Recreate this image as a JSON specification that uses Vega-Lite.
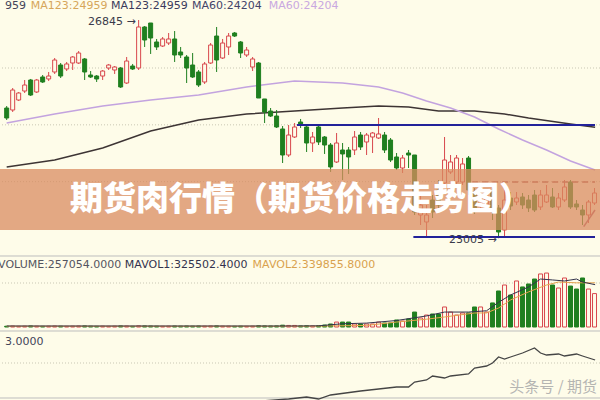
{
"$schema":"https://vega.github.io/schema/vega-lite/v6.json",
"width":600,"height":400,"padding":0,
"autosize":{"type":"none"},
"background":"#fefce9",
"config":{"view":{"stroke":null}},
"datasets":{
"candles":[
{"i":0,"o":25296,"h":25331,"l":25085,"c":25120,"v":6000},
{"i":1,"o":25261,"h":25648,"l":25226,"c":25613,"v":7000},
{"i":2,"o":25437,"h":25578,"l":25419,"c":25560,"v":5000},
{"i":3,"o":25595,"h":25789,"l":25560,"c":25701,"v":6000},
{"i":4,"o":25789,"h":25807,"l":25507,"c":25525,"v":8000},
{"i":5,"o":25578,"h":25807,"l":25560,"c":25789,"v":6000},
{"i":6,"o":25842,"h":25877,"l":25736,"c":25754,"v":5000},
{"i":7,"o":25807,"h":25930,"l":25771,"c":25859,"v":6000},
{"i":8,"o":25930,"h":26176,"l":25895,"c":26141,"v":7000},
{"i":9,"o":26053,"h":26088,"l":25824,"c":25859,"v":6000},
{"i":10,"o":25983,"h":26106,"l":25947,"c":26071,"v":5000},
{"i":11,"o":26088,"h":26211,"l":25965,"c":26194,"v":6000},
{"i":12,"o":26088,"h":26299,"l":26071,"c":26264,"v":7000},
{"i":13,"o":26159,"h":26176,"l":25789,"c":25930,"v":8000},
{"i":14,"o":25877,"h":25947,"l":25824,"c":25842,"v":6000},
{"i":15,"o":25859,"h":25877,"l":25754,"c":25807,"v":5000},
{"i":16,"o":25859,"h":25965,"l":25789,"c":25947,"v":6000},
{"i":17,"o":26000,"h":26071,"l":25965,"c":26053,"v":5000},
{"i":18,"o":25965,"h":26035,"l":25895,"c":26018,"v":6000},
{"i":19,"o":26000,"h":26018,"l":25648,"c":25666,"v":8000},
{"i":20,"o":25736,"h":26194,"l":25719,"c":26123,"v":7000},
{"i":21,"o":26035,"h":26071,"l":25965,"c":25983,"v":5000},
{"i":22,"o":26000,"h":26845,"l":25965,"c":26722,"v":9000},
{"i":23,"o":26722,"h":26739,"l":26370,"c":26493,"v":8000},
{"i":24,"o":26792,"h":26792,"l":26247,"c":26528,"v":7000},
{"i":25,"o":26458,"h":26511,"l":26317,"c":26370,"v":6000},
{"i":26,"o":26387,"h":26546,"l":26370,"c":26511,"v":5000},
{"i":27,"o":26440,"h":26616,"l":26405,"c":26511,"v":6000},
{"i":28,"o":26511,"h":26651,"l":26106,"c":26229,"v":7000},
{"i":29,"o":26282,"h":26370,"l":26176,"c":26229,"v":6000},
{"i":30,"o":26194,"h":26229,"l":25736,"c":26000,"v":7000},
{"i":31,"o":26053,"h":26264,"l":25824,"c":25842,"v":6000},
{"i":32,"o":25930,"h":25965,"l":25666,"c":25701,"v":7000},
{"i":33,"o":25754,"h":26106,"l":25719,"c":26071,"v":6000},
{"i":34,"o":26088,"h":26440,"l":26071,"c":26405,"v":7000},
{"i":35,"o":26563,"h":26722,"l":25930,"c":26141,"v":8000},
{"i":36,"o":26176,"h":26511,"l":26159,"c":26440,"v":6000},
{"i":37,"o":26370,"h":26616,"l":26229,"c":26563,"v":6000},
{"i":38,"o":26616,"h":26634,"l":26546,"c":26563,"v":5000},
{"i":39,"o":26458,"h":26475,"l":26176,"c":26264,"v":6000},
{"i":40,"o":26229,"h":26370,"l":26194,"c":26317,"v":5000},
{"i":41,"o":26018,"h":26194,"l":25947,"c":26159,"v":6000},
{"i":42,"o":26088,"h":26106,"l":25472,"c":25472,"v":9000},
{"i":43,"o":25455,"h":25455,"l":25032,"c":25226,"v":8000},
{"i":44,"o":25243,"h":25296,"l":25138,"c":25155,"v":7000},
{"i":45,"o":25155,"h":25261,"l":24944,"c":24962,"v":8000},
{"i":46,"o":24927,"h":24979,"l":24328,"c":24469,"v":14000},
{"i":47,"o":24469,"h":24997,"l":24434,"c":24821,"v":12000},
{"i":48,"o":24786,"h":25032,"l":24768,"c":24962,"v":12000},
{"i":49,"o":25050,"h":25103,"l":24944,"c":24997,"v":8000},
{"i":50,"o":24962,"h":24997,"l":24522,"c":24680,"v":9000},
{"i":51,"o":24680,"h":24874,"l":24522,"c":24786,"v":8000},
{"i":52,"o":24962,"h":24997,"l":24645,"c":24698,"v":10000},
{"i":53,"o":24786,"h":24803,"l":24487,"c":24645,"v":15000},
{"i":54,"o":24645,"h":24680,"l":24170,"c":24258,"v":23000},
{"i":55,"o":24346,"h":24856,"l":24328,"c":24680,"v":38000},
{"i":56,"o":24557,"h":24680,"l":24029,"c":24487,"v":38000},
{"i":57,"o":24557,"h":24610,"l":24135,"c":24434,"v":38000},
{"i":58,"o":24557,"h":24891,"l":24469,"c":24786,"v":23000},
{"i":59,"o":24821,"h":24874,"l":24557,"c":24610,"v":23000},
{"i":60,"o":24698,"h":24856,"l":24469,"c":24821,"v":23000},
{"i":61,"o":24786,"h":24874,"l":24504,"c":24856,"v":23000},
{"i":62,"o":24768,"h":25120,"l":24751,"c":24839,"v":38000},
{"i":63,"o":24821,"h":24874,"l":24504,"c":24557,"v":31000},
{"i":64,"o":24733,"h":24768,"l":24346,"c":24381,"v":31000},
{"i":65,"o":24434,"h":24504,"l":24205,"c":24240,"v":54000},
{"i":66,"o":24240,"h":24469,"l":24152,"c":24416,"v":46000},
{"i":67,"o":24504,"h":24557,"l":24240,"c":24469,"v":62000},
{"i":68,"o":24469,"h":24469,"l":23413,"c":23466,"v":115000},
{"i":69,"o":23413,"h":23765,"l":23237,"c":23589,"v":69000},
{"i":70,"o":23290,"h":23589,"l":23026,"c":23413,"v":92000},
{"i":71,"o":23677,"h":23765,"l":23360,"c":23466,"v":100000},
{"i":72,"o":23853,"h":24029,"l":23501,"c":23589,"v":100000},
{"i":73,"o":23976,"h":24786,"l":23941,"c":24381,"v":154000},
{"i":74,"o":24170,"h":24469,"l":24135,"c":24346,"v":115000},
{"i":75,"o":23994,"h":24469,"l":23941,"c":24416,"v":92000},
{"i":76,"o":23994,"h":24416,"l":23941,"c":24311,"v":108000},
{"i":77,"o":24416,"h":24451,"l":23765,"c":23853,"v":108000},
{"i":78,"o":23818,"h":23888,"l":23431,"c":23501,"v":154000},
{"i":79,"o":23571,"h":23818,"l":23501,"c":23712,"v":154000},
{"i":80,"o":23607,"h":23853,"l":23466,"c":23747,"v":115000},
{"i":81,"o":23818,"h":23888,"l":23325,"c":23466,"v":185000},
{"i":82,"o":23536,"h":23589,"l":23005,"c":23114,"v":277000},
{"i":83,"o":23149,"h":23853,"l":23043,"c":23677,"v":323000},
{"i":84,"o":23712,"h":23818,"l":23501,"c":23571,"v":246000},
{"i":85,"o":23642,"h":23818,"l":23589,"c":23712,"v":354000},
{"i":86,"o":23730,"h":23800,"l":23519,"c":23589,"v":308000},
{"i":87,"o":23677,"h":23765,"l":23466,"c":23536,"v":331000},
{"i":88,"o":23765,"h":23853,"l":23466,"c":23501,"v":369000},
{"i":89,"o":23554,"h":23853,"l":23501,"c":23765,"v":408000},
{"i":90,"o":23642,"h":23941,"l":23624,"c":23765,"v":415000},
{"i":91,"o":23730,"h":23888,"l":23536,"c":23554,"v":323000},
{"i":92,"o":23554,"h":23800,"l":23501,"c":23712,"v":300000},
{"i":93,"o":23677,"h":24029,"l":23642,"c":23906,"v":377000},
{"i":94,"o":23994,"h":24029,"l":23519,"c":23554,"v":315000},
{"i":95,"o":23607,"h":23677,"l":23501,"c":23554,"v":292000},
{"i":96,"o":23501,"h":23589,"l":23237,"c":23413,"v":377000},
{"i":97,"o":23413,"h":23677,"l":23272,"c":23642,"v":292000},
{"i":98,"o":23624,"h":23888,"l":23589,"c":23800,"v":257054}
],
"ma60":[
{"i":0,"m":25032},{"i":8,"m":25191},{"i":16,"m":25331},{"i":24,"m":25437},{"i":32,"m":25525},{"i":40,"m":25666},{"i":48,"m":25771},{"i":56,"m":25736},{"i":62,"m":25666},{"i":66,"m":25560},{"i":70,"m":25419},{"i":74,"m":25296},{"i":78,"m":25138},{"i":82,"m":24927},{"i":86,"m":24733},{"i":90,"m":24557},{"i":94,"m":24363},{"i":98.1,"m":24204}
],
"ma123":[
{"i":0,"m":24258},{"i":8,"m":24381},{"i":16,"m":24592},{"i":24,"m":24891},{"i":32,"m":25085},{"i":40,"m":25191},{"i":48,"m":25243},{"i":56,"m":25296},{"i":62,"m":25331},{"i":67,"m":25314},{"i":72,"m":25243},{"i":78,"m":25243},{"i":83,"m":25191},{"i":87,"m":25120},{"i":94,"m":25015},{"i":98.1,"m":24959}
],
"mavol1":[
{"i":0,"m":7700},{"i":48,"m":7700},{"i":52,"m":9000},{"i":56,"m":25000},{"i":60,"m":30000},{"i":65,"m":50000},{"i":70,"m":85000},{"i":73,"m":115000},{"i":77,"m":115000},{"i":80,"m":125000},{"i":82,"m":190000},{"i":84,"m":246000},{"i":87,"m":308000},{"i":89,"m":369000},{"i":91,"m":362000},{"i":93,"m":354000},{"i":95,"m":369000},{"i":96,"m":346000},{"i":98.1,"m":325502}
],
"mavol2":[
{"i":0,"m":6000},{"i":50,"m":6000},{"i":60,"m":12000},{"i":65,"m":38000},{"i":70,"m":60000},{"i":73,"m":77000},{"i":78,"m":108000},{"i":80,"m":108000},{"i":82,"m":146000},{"i":84,"m":208000},{"i":87,"m":270000},{"i":90,"m":323000},{"i":92,"m":346000},{"i":95,"m":340000},{"i":98.1,"m":339856}
],
"ind":[
{"i":30,"m":-60000},{"i":40,"m":-40000},{"i":47,"m":-10000},{"i":50,"m":10000},{"i":52,"m":-10000},{"i":54,"m":30000},{"i":59,"m":70000},{"i":65,"m":110000},{"i":67,"m":110000},{"i":68,"m":160000},{"i":70,"m":180000},{"i":71,"m":220000},{"i":73,"m":200000},{"i":74,"m":220000},{"i":77,"m":240000},{"i":78,"m":300000},{"i":80,"m":320000},{"i":81,"m":350000},{"i":82,"m":410000},{"i":83,"m":390000},{"i":84,"m":410000},{"i":86,"m":450000},{"i":88,"m":500000},{"i":89,"m":450000},{"i":90,"m":430000},{"i":92,"m":440000},{"i":93,"m":420000},{"i":95,"m":440000},{"i":96,"m":420000},{"i":98.1,"m":380000}
]
},
"layer":[
{
"layer":[
{"data":{"values":[{"p":26000},{"p":25000},{"p":24000}]},"mark":{"type":"rule","color":"#c9c7b4","strokeDash":[1,2],"strokeWidth":1},
 "encoding":{"y":{"field":"p","type":"quantitative","scale":{"domain":[20157,27197],"nice":false,"zero":false},"axis":null}}},
{"data":{"name":"ma123"},"mark":{"type":"line","color":"#3d3434","strokeWidth":1.5,"clip":true},
 "encoding":{"x":{"field":"i","type":"quantitative","scale":{"domain":[-0.279,98.08],"nice":false,"zero":false},"axis":null},
 "y":{"field":"m","type":"quantitative","scale":{"domain":[20157,27197],"nice":false,"zero":false},"axis":null}}},
{"data":{"name":"ma60"},"mark":{"type":"line","color":"#c3a3df","strokeWidth":1.5,"clip":true},
 "encoding":{"x":{"field":"i","type":"quantitative","scale":{"domain":[-0.279,98.08],"nice":false,"zero":false},"axis":null},
 "y":{"field":"m","type":"quantitative"}}},
{"data":{"name":"candles"},"mark":{"type":"rule","strokeWidth":1,"clip":true},
 "encoding":{"x":{"field":"i","type":"quantitative","scale":{"domain":[-0.279,98.08],"nice":false,"zero":false},"axis":null},
 "y":{"field":"h","type":"quantitative"},"y2":{"field":"l"},
 "color":{"condition":{"test":"datum.c >= datum.o","value":"#d8474c"},"value":"#1f7f1f"}}},
{"data":{"name":"candles"},"mark":{"type":"bar","size":4,"strokeWidth":1,"clip":true},
 "encoding":{"x":{"field":"i","type":"quantitative","scale":{"domain":[-0.279,98.08],"nice":false,"zero":false},"axis":null},
 "y":{"field":"o","type":"quantitative"},"y2":{"field":"c"},
 "fill":{"condition":{"test":"datum.c >= datum.o","value":"#fefce9"},"value":"#1f7f1f"},
 "stroke":{"condition":{"test":"datum.c >= datum.o","value":"#d8474c"},"value":"#1f7f1f"}}},
{"data":{"values":[{}]},"mark":{"type":"rule","color":"#22229a","strokeWidth":2},
 "encoding":{"x":{"datum":48.4},"x2":{"datum":98.08},"y":{"datum":24997}}},
{"data":{"values":[{}]},"mark":{"type":"rule","color":"#22229a","strokeWidth":2},
 "encoding":{"x":{"datum":67.8},"x2":{"datum":98.08},"y":{"datum":23026}}},
{"data":{"values":[{}]},"mark":{"type":"rule","color":"#a84c50","strokeWidth":1.5,"strokeDash":[6,4]},
 "encoding":{"x":{"datum":77.6},"x2":{"datum":98.08},"y":{"datum":23994}}},
{"data":{"values":[{}]},"mark":{"type":"rule","color":"#b0506a","strokeWidth":1.5},
 "encoding":{"x":{"datum":96.2},"x2":{"datum":98.08},"y":{"datum":23207},"y2":{"datum":23501}}},
{"data":{"values":[{}]},"mark":{"type":"text","align":"right","baseline":"middle","font":"DejaVu Sans","fontSize":11,"color":"#3a3a4a"},
 "encoding":{"x":{"datum":21.5},"y":{"datum":26810},"text":{"value":"26845 →"}}},
{"data":{"values":[{}]},"mark":{"type":"text","align":"right","baseline":"middle","font":"DejaVu Sans","fontSize":11,"color":"#3a3a4a"},
 "encoding":{"x":{"datum":81.7},"y":{"datum":22973},"text":{"value":"23005 →"}}},
{"data":{"values":[{}]},"mark":{"type":"text","align":"left","baseline":"middle","font":"DejaVu Sans","fontSize":11,"color":"#44445a","clip":true},
 "encoding":{"x":{"datum":-0.279},"y":{"datum":27091},"text":{"value":"959"}}},
{"data":{"values":[{}]},"mark":{"type":"text","align":"left","baseline":"middle","font":"DejaVu Sans","fontSize":11,"color":"#d6a65a"},
 "encoding":{"x":{"datum":4.0},"y":{"datum":27091},"text":{"value":"MA123:24959"}}},
{"data":{"values":[{}]},"mark":{"type":"text","align":"left","baseline":"middle","font":"DejaVu Sans","fontSize":11,"color":"#3a3a5c"},
 "encoding":{"x":{"datum":17.4},"y":{"datum":27091},"text":{"value":"MA123:24959"}}},
{"data":{"values":[{}]},"mark":{"type":"text","align":"left","baseline":"middle","font":"DejaVu Sans","fontSize":11,"color":"#44446a"},
 "encoding":{"x":{"datum":30.9},"y":{"datum":27091},"text":{"value":"MA60:24204"}}},
{"data":{"values":[{}]},"mark":{"type":"text","align":"left","baseline":"middle","font":"DejaVu Sans","fontSize":11,"color":"#c9a8e0"},
 "encoding":{"x":{"datum":43.7},"y":{"datum":27091},"text":{"value":"MA60:24204"}}},
{"data":{"values":[{}]},"mark":{"type":"rect","color":"#d98c60","opacity":0.75},
 "encoding":{"y":{"datum":24223},"y2":{"datum":23149}}},
{"data":{"values":[{}]},"mark":{"type":"text","align":"center","baseline":"middle","font":"Noto Sans CJK SC","fontSize":33,"fontWeight":900,"color":"#ffffff"},
 "encoding":{"x":{"datum":49.07},"y":{"datum":23677},"text":{"value":"期货肉行情（期货价格走势图）"}}}
]
},
{
"layer":[
{"data":{"values":[{}]},"mark":{"type":"rule","color":"#c9c7b4","strokeDash":[1,2],"strokeWidth":1},
 "encoding":{"y":{"datum":338460,"type":"quantitative","scale":{"domain":[-561538,2515385],"nice":false,"zero":false},"axis":null}}},
{"data":{"values":[{}]},"mark":{"type":"rule","color":"#bdbdbd","strokeWidth":1},
 "encoding":{"y":{"datum":546154}}},
{"data":{"name":"candles"},"mark":{"type":"bar","size":4,"strokeWidth":1,"clip":true},
 "encoding":{"x":{"field":"i","type":"quantitative","scale":{"domain":[-0.279,98.08],"nice":false,"zero":false},"axis":null},
 "y":{"field":"v","type":"quantitative"},"y2":{"datum":0},
 "fill":{"condition":{"test":"datum.c >= datum.o","value":"#fefce9"},"value":"#1f7f1f"},
 "stroke":{"condition":{"test":"datum.c >= datum.o","value":"#d8474c"},"value":"#1f7f1f"}}},
{"data":{"name":"mavol2"},"mark":{"type":"line","color":"#e3a24e","strokeWidth":1,"clip":true},
 "encoding":{"x":{"field":"i","type":"quantitative","scale":{"domain":[-0.279,98.08],"nice":false,"zero":false},"axis":null},
 "y":{"field":"m","type":"quantitative"}}},
{"data":{"name":"mavol1"},"mark":{"type":"line","color":"#34344c","strokeWidth":1,"clip":true},
 "encoding":{"x":{"field":"i","type":"quantitative","scale":{"domain":[-0.279,98.08],"nice":false,"zero":false},"axis":null},
 "y":{"field":"m","type":"quantitative"}}},
{"data":{"values":[{}]},"mark":{"type":"text","align":"left","baseline":"middle","font":"DejaVu Sans","fontSize":11,"color":"#555560","clip":true},
 "encoding":{"x":{"datum":-1.43},"y":{"datum":476900},"text":{"value":"VOLUME:257054.0000"}}},
{"data":{"values":[{}]},"mark":{"type":"text","align":"left","baseline":"middle","font":"DejaVu Sans","fontSize":11,"color":"#33334e"},
 "encoding":{"x":{"datum":19.7},"y":{"datum":476900},"text":{"value":"MAVOL1:325502.4000"}}},
{"data":{"values":[{}]},"mark":{"type":"text","align":"left","baseline":"middle","font":"DejaVu Sans","fontSize":11,"color":"#d9a24e"},
 "encoding":{"x":{"datum":41.0},"y":{"datum":476900},"text":{"value":"MAVOL2:339855.8000"}}}
]
},
{
"layer":[
{"data":{"values":[{}]},"mark":{"type":"rule","color":"#c9c7b4","strokeDash":[1,2],"strokeWidth":1},
 "encoding":{"y":{"datum":350000,"type":"quantitative","scale":{"domain":[-20000,3980000],"nice":false,"zero":false},"axis":null}}},
{"data":{"values":[{"p":670000},{"p":0}]},"mark":{"type":"rule","color":"#bdbdbd","strokeWidth":1},
 "encoding":{"y":{"field":"p","type":"quantitative"}}},
{"data":{"name":"ind"},"mark":{"type":"line","color":"#454545","strokeWidth":1.3,"clip":true},
 "encoding":{"x":{"field":"i","type":"quantitative","scale":{"domain":[-0.279,98.08],"nice":false,"zero":false},"axis":null},
 "y":{"field":"m","type":"quantitative"}}},
{"data":{"values":[{}]},"mark":{"type":"text","align":"left","baseline":"middle","font":"DejaVu Sans","fontSize":11,"color":"#44445a","clip":true},
 "encoding":{"x":{"datum":-0.279},"y":{"datum":560000},"text":{"value":"3.0000"}}},
{"data":{"values":[{}]},"mark":{"type":"text","align":"left","baseline":"middle","font":"Noto Sans CJK SC","fontSize":15,"color":"#a9a9a9","opacity":0.85},
 "encoding":{"x":{"datum":83.8},"y":{"datum":110000},"text":{"value":"头条号 / 期货"}}}
]
}
],
"resolve":{"scale":{"y":"independent"}}
}
